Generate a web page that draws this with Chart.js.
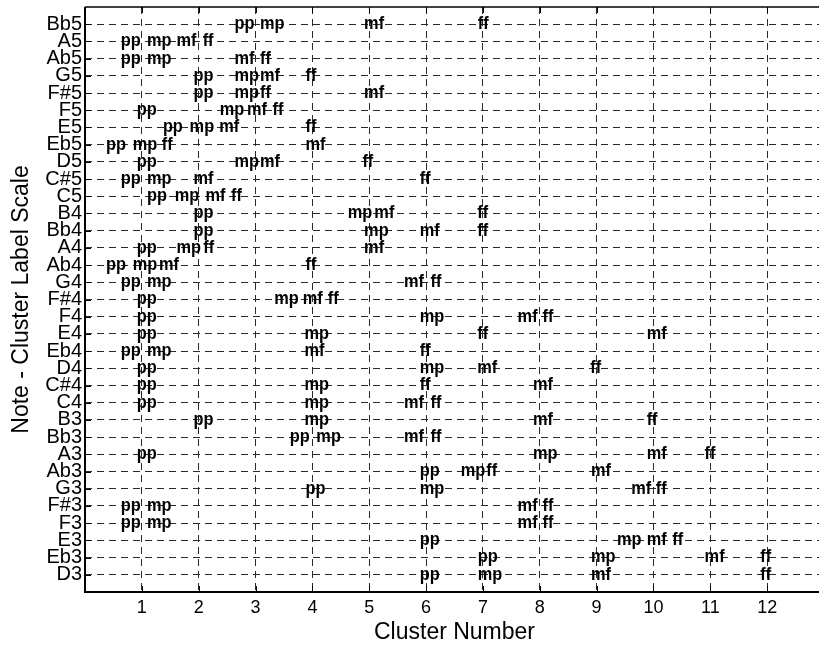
<!DOCTYPE html>
<html>
<head>
<meta charset="utf-8">
<script src="https://cdn.jsdelivr.net/npm/chart.js@4/dist/chart.umd.min.js"></script>
<style>
html, body { margin: 0; padding: 0; background: #fff; overflow: hidden; }
canvas { display: block; }
</style>
</head>
<body>
<canvas id="myChart" width="830" height="646"></canvas>
<script>
// rows from bottom (D3) to top (Bb5)
const notes = ['D3', 'Eb3', 'E3', 'F3', 'F#3', 'G3', 'Ab3', 'A3', 'Bb3', 'B3',
    'C4', 'C#4', 'D4', 'Eb4', 'E4', 'F4', 'F#4', 'G4', 'Ab4', 'A4', 'Bb4', 'B4',
    'C5', 'C#5', 'D5', 'Eb5', 'E5', 'F5', 'F#5', 'G5', 'Ab5', 'A5', 'Bb5'];
const clusterTicks = [1, 2, 3, 4, 5, 6, 7, 8, 9, 10, 11, 12];

// x position (cluster number) of each dynamic label, one value per note
const ppX = [5.89, 6.91, 5.89, 0.63, 0.63, 3.88, 5.89, 0.91, 3.60, 1.91,
    0.91, 0.91, 0.91, 0.63, 0.91, 0.91, 0.91, 0.63, 0.37, 0.91, 1.91, 1.91,
    1.09, 0.63, 0.91, 0.37, 1.37, 0.91, 1.91, 1.91, 0.63, 0.63, 2.63];
const mpX = [6.91, 8.90, 9.36, 1.09, 1.09, 5.89, 6.61, 7.88, 4.07, 3.86,
    3.86, 3.86, 5.89, 1.09, 3.86, 5.89, 3.33, 1.09, 0.84, 1.61, 4.91, 4.62,
    1.58, 1.09, 2.63, 0.84, 1.84, 2.37, 2.63, 2.63, 1.09, 1.09, 3.08];
const mfX = [8.90, 10.90, 9.88, 7.61, 7.61, 9.61, 8.90, 9.88, 5.61, 7.88,
    5.61, 7.88, 6.90, 3.86, 9.88, 7.61, 3.83, 5.61, 1.30, 4.91, 5.89, 5.09,
    2.12, 1.91, 3.08, 3.88, 2.36, 2.85, 4.91, 3.08, 2.63, 1.61, 4.91];
const ffX = [11.88, 11.88, 10.33, 8.05, 8.05, 10.04, 7.06, 10.90, 6.08, 9.88,
    6.08, 5.89, 8.89, 5.89, 6.90, 8.05, 4.27, 6.08, 3.88, 2.08, 6.90, 6.90,
    2.57, 5.89, 4.88, 1.35, 3.88, 3.30, 3.08, 3.88, 3.08, 2.07, 6.91];

const dynamics = ['pp', 'mp', 'mf', 'ff'];
const dynamicX = [ppX, mpX, mfX, ffX];

const fontFamily = '"Liberation Sans", Arial, Helvetica, sans-serif';

function makeDataset(label, xs) {
    return {
        label: label,
        data: xs.map((x, i) => ({ x: x, y: i + 1 })),
        pointRadius: 0,
        pointHoverRadius: 0
    };
}

// writes the dynamic labels at the point positions (slightly condensed bold)
const labelPlugin = {
    id: 'dynLabels',
    afterDatasetsDraw(chart) {
        const ctx = chart.ctx;
        const squeeze = 0.86;
        ctx.save();
        ctx.font = 'bold 19px ' + fontFamily;
        ctx.fillStyle = '#000';
        ctx.textAlign = 'left';
        ctx.textBaseline = 'alphabetic';
        chart.data.datasets.forEach((ds, i) => {
            chart.getDatasetMeta(i).data.forEach(pt => {
                ctx.save();
                ctx.translate(pt.x, pt.y + 4.9);
                ctx.scale(squeeze, 1);
                ctx.fillText(ds.label, 0, 0);
                ctx.restore();
            });
        });
        ctx.restore();
    }
};

// box around the plot and inward tick marks
const framePlugin = {
    id: 'frame',
    afterDraw(chart) {
        const ctx = chart.ctx;
        const a = chart.chartArea;
        const xs = chart.scales.x;
        const ys = chart.scales.y;
        ctx.save();
        ctx.strokeStyle = '#000';
        ctx.lineWidth = 1;
        ctx.beginPath();
        clusterTicks.forEach(v => {
            const px = Math.round(xs.getPixelForValue(v)) + 0.5;
            ctx.moveTo(px, a.bottom);
            ctx.lineTo(px, a.bottom - 6);
            ctx.moveTo(px, a.top);
            ctx.lineTo(px, a.top + 6);
        });
        notes.forEach((n, i) => {
            const py = Math.round(ys.getPixelForValue(i + 1)) + 0.5;
            ctx.moveTo(a.left, py);
            ctx.lineTo(a.left + 6, py);
        });
        ctx.stroke();

        ctx.lineWidth = 1.5;
        ctx.beginPath();
        ctx.moveTo(a.left, a.top);
        ctx.lineTo(a.right, a.top);
        ctx.stroke();

        ctx.lineWidth = 2;
        ctx.beginPath();
        ctx.moveTo(a.left, a.top);
        ctx.lineTo(a.left, a.bottom);
        ctx.lineTo(a.right, a.bottom);
        ctx.lineTo(a.right, a.top);
        ctx.stroke();
        ctx.restore();
    }
};

const ctx = document.getElementById('myChart').getContext('2d');
const myChart = new Chart(ctx, {
    type: 'scatter',
    data: {
        datasets: dynamics.map((d, i) => makeDataset(d, dynamicX[i]))
    },
    options: {
        responsive: false,
        animation: false,
        events: [],
        layout: { padding: { top: 7, right: 6, left: 0, bottom: 0 } },
        plugins: {
            legend: { display: false },
            tooltip: { enabled: false }
        },
        scales: {
            x: {
                type: 'linear',
                position: 'bottom',
                min: 0,
                max: 13,
                afterBuildTicks: scale => {
                    scale.ticks = clusterTicks.map(v => ({ value: v }));
                },
                afterFit: scale => {
                    scale.height = 54;
                    scale.paddingLeft = 0;
                    scale.paddingRight = 0;
                },
                grid: { color: '#2a2a2a', lineWidth: 1, drawTicks: false },
                border: { display: false, dash: [7, 5] },
                ticks: {
                    color: '#000',
                    autoSkip: false,
                    maxRotation: 0,
                    padding: 5,
                    font: { family: fontFamily, size: 18 }
                },
                title: {
                    display: true,
                    text: 'Cluster Number',
                    color: '#000',
                    padding: 0,
                    font: { family: fontFamily, size: 23 }
                }
            },
            y: {
                type: 'linear',
                position: 'left',
                min: 0,
                max: notes.length + 1,
                afterBuildTicks: scale => {
                    scale.ticks = notes.map((n, i) => ({ value: i + 1 }));
                },
                afterFit: scale => {
                    scale.width = 85;
                    scale.paddingTop = 0;
                    scale.paddingBottom = 0;
                },
                grid: { color: '#2a2a2a', lineWidth: 1, drawTicks: false },
                border: { display: false, dash: [7, 5] },
                ticks: {
                    color: '#000',
                    autoSkip: false,
                    padding: 3,
                    font: { family: fontFamily, size: 20 },
                    callback: v => notes[v - 1]
                },
                title: {
                    display: true,
                    text: 'Note - Cluster Label Scale',
                    color: '#000',
                    padding: { top: 8, bottom: 0 },
                    font: { family: fontFamily, size: 23 }
                }
            }
        }
    },
    plugins: [labelPlugin, framePlugin]
});
</script>
</body>
</html>
